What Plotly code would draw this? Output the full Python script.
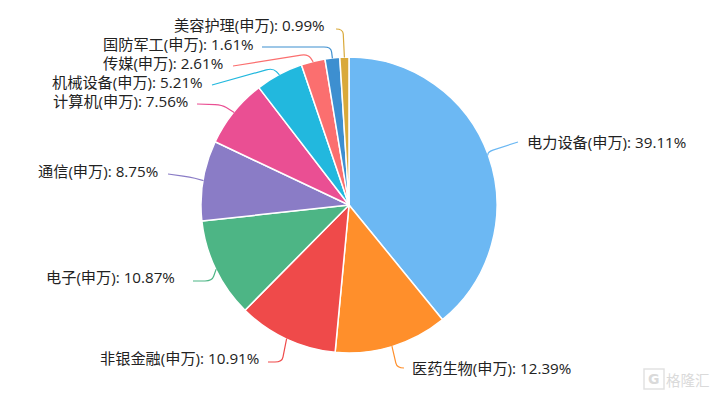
import math
import plotly.graph_objects as go

labels = ["电力设备(申万)", "医药生物(申万)", "非银金融(申万)", "电子(申万)", "通信(申万)", "计算机(申万)", "机械设备(申万)", "传媒(申万)", "国防军工(申万)", "美容护理(申万)"]
values = [39.11, 12.39, 10.91, 10.87, 8.75, 7.56, 5.21, 2.61, 1.61, 0.99]
colors = ["#6CB8F3", "#FF8F2B", "#EF4A4A", "#4DB585", "#8A7CC6", "#EA4F93", "#22B8DE", "#FB6F6F", "#3D8FD0", "#D9A93A"]

W, H = 717, 394
CX, CY, R = 349, 205, 148
# label anchor (px): x, y, side; leader elbow and end (px)
label_pos = [(526, 142, "left"), (411, 368, "left"), (260, 358, "right"), (176, 277, "right"), (159, 171, "right"),
             (189, 101, "right"), (204, 82, "right"), (224, 63, "right"), (255, 44, "right"), (326, 25, "right")]
elbow = [(487, 152), (397, 368), (282, 362), (212, 281), (190, 177),
         (222, 105), (273, 68), (308, 54), (331, 47), (343, 29)]
line_end = [(518, 142), (404, 368), (268, 362), (193, 281), (168, 174),
            (197, 104), (212, 85), (233, 66), (262, 47), (336, 29)]
LABEL_FONT = "Open Sans, Noto Sans CJK SC"

def px(x): return x / W
def py(y): return 1 - y / H

def toward(p, q, d):
    L = math.hypot(q[0] - p[0], q[1] - p[1]) or 1
    d = min(d, L)
    return (p[0] + (q[0] - p[0]) * d / L, p[1] + (q[1] - p[1]) * d / L)

fig = go.Figure(go.Pie(labels=labels, values=values, sort=False, direction="clockwise", rotation=0,
    marker=dict(colors=colors, line=dict(color="white", width=1.5)),
    textinfo="none", hoverinfo="label+value",
    domain=dict(x=[px(CX - R), px(CX + R)], y=[py(CY + R), py(CY - R)])))

shapes, annotations = [], []
total = sum(values)
cum = 0.0
for i, v in enumerate(values):
    a = 2 * math.pi * (cum + v / 2) / total
    cum += v
    s = (CX + (R - 0.5) * math.sin(a), CY - (R - 0.5) * math.cos(a))
    e, t = elbow[i], line_end[i]
    p1, p2 = toward(e, s, 5), toward(e, t, 7)
    def f(p): return f"{px(p[0]):.5f} {py(p[1]):.5f}"
    shapes.append(dict(type="path", xref="paper", yref="paper",
        path=f"M {f(s)} L {f(p1)} Q {f(e)} {f(p2)} L {f(t)}",
        line=dict(color=colors[i], width=1.2)))
    x, y, side = label_pos[i]
    annotations.append(dict(text=f"{labels[i]}: {v:.2f}%", x=px(x), y=py(y), xref="paper", yref="paper",
        xanchor=side, yanchor="middle", showarrow=False, borderpad=0,
        font=dict(family=LABEL_FONT, size=15.2, color="#222222")))

# watermark
annotations.append(dict(text="格隆汇", x=px(712), y=py(379), xref="paper", yref="paper", xanchor="right", yanchor="middle",
    showarrow=False, font=dict(family="Noto Sans CJK SC", size=14.5, color="#DADADA")))
annotations.append(dict(text="<b>G</b>", x=px(654), y=py(379), xref="paper", yref="paper", xanchor="center", yanchor="middle",
    showarrow=False, font=dict(family="DejaVu Sans", size=14, color="#DADADA")))
shapes.append(dict(type="rect", xref="paper", yref="paper", x0=px(644), x1=px(664), y0=py(389), y1=py(369),
    line=dict(color="#E2E2E2", width=1.5)))

fig.update_layout(width=W, height=H, margin=dict(l=0, r=0, t=0, b=0), showlegend=False, paper_bgcolor="white",
    shapes=shapes, annotations=annotations)
fig.write_html("out.html", config=dict(displayModeBar=False), post_script="document.body.style.margin='0';")
